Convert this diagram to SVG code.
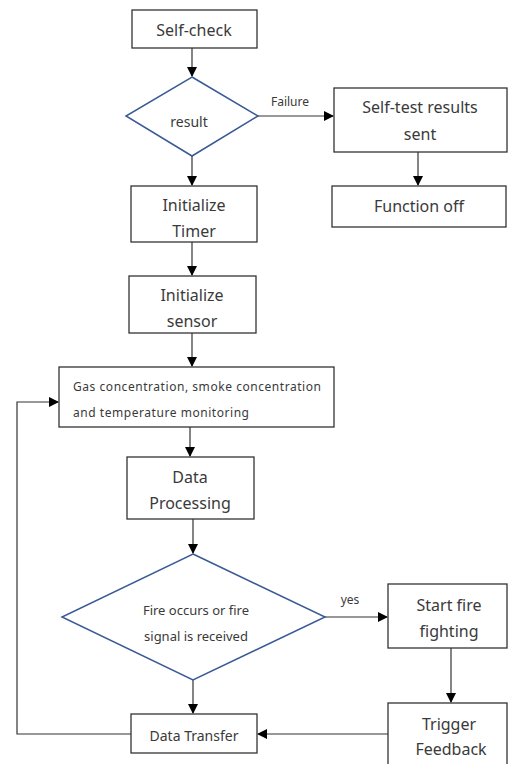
<svg xmlns="http://www.w3.org/2000/svg" width="509" height="764" viewBox="0 0 509 764">
<style>
.box{fill:#fff;stroke:#333;stroke-width:1.3}
.dia{fill:#fff;stroke:#3a5a96;stroke-width:1.5}
.t{font-family:"Noto Sans","Open Sans",sans-serif;fill:#3a3a3a;text-anchor:middle;dominant-baseline:central}
.l{font-size:16px}
.s{font-size:12px}
.c{fill:none;stroke:#333;stroke-width:1.2}
</style>
<defs>
<marker id="ah" markerWidth="10" markerHeight="10" refX="9" refY="5" orient="auto" markerUnits="userSpaceOnUse">
<path d="M0,0 L10,5 L0,10 Z" fill="#000"/>
</marker>
</defs>
<rect width="509" height="764" fill="#fff"/>
<g id="connectors">
<line class="c" x1="192" y1="48" x2="192" y2="76" marker-end="url(#ah)"/>
<line class="c" x1="258" y1="116" x2="333" y2="116" marker-end="url(#ah)"/>
<line class="c" x1="418" y1="152" x2="418" y2="185" marker-end="url(#ah)"/>
<line class="c" x1="192" y1="156" x2="192" y2="185" marker-end="url(#ah)"/>
<line class="c" x1="192" y1="242" x2="192" y2="275" marker-end="url(#ah)"/>
<line class="c" x1="192" y1="333" x2="192" y2="366" marker-end="url(#ah)"/>
<line class="c" x1="190" y1="427" x2="190" y2="456" marker-end="url(#ah)"/>
<line class="c" x1="193" y1="519" x2="193" y2="553" marker-end="url(#ah)"/>
<line class="c" x1="325" y1="617" x2="387" y2="617" marker-end="url(#ah)"/>
<line class="c" x1="451" y1="648" x2="451" y2="702" marker-end="url(#ah)"/>
<line class="c" x1="193" y1="680" x2="193" y2="713" marker-end="url(#ah)"/>
<line class="c" x1="388" y1="734" x2="258" y2="734" marker-end="url(#ah)"/>
<polyline class="c" points="131,734 17,734 17,402 58,402" marker-end="url(#ah)"/>
<text class="t s" x="290" y="101">Failure</text>
<text class="t s" x="350" y="599">yes</text>
</g>
<g id="selfcheck">
<rect class="box" x="132" y="10" width="125" height="38"/>
<text class="t l" x="194" y="30">Self-check</text>
</g>
<g id="result">
<polygon class="dia" points="192,77 258,116 192,156 126,116"/>
<text class="t" style="font-size:14px" x="189" y="121">result</text>
</g>
<g id="selftest">
<rect class="box" x="334" y="88" width="173" height="64"/>
<text class="t l" x="420" y="107">Self-test results</text>
<text class="t l" x="420" y="134">sent</text>
</g>
<g id="funcoff">
<rect class="box" x="332" y="186" width="174" height="41"/>
<text class="t l" x="419" y="206">Function off</text>
</g>
<g id="timer">
<rect class="box" x="131" y="186" width="126" height="56"/>
<text class="t l" x="194" y="205">Initialize</text>
<text class="t l" x="194" y="231">Timer</text>
</g>
<g id="sensor">
<rect class="box" x="129" y="276" width="127" height="57"/>
<text class="t l" x="192" y="295">Initialize</text>
<text class="t l" x="192" y="321">sensor</text>
</g>
<g id="monitor">
<rect class="box" x="59" y="367" width="275" height="60"/>
<text class="t s" style="text-anchor:start" x="73" y="386" textLength="248">Gas concentration, smoke concentration</text>
<text class="t s" style="text-anchor:start" x="73" y="412" textLength="176">and temperature monitoring</text>
</g>
<g id="processing">
<rect class="box" x="127" y="457" width="127" height="62"/>
<text class="t l" x="190" y="477">Data</text>
<text class="t l" x="190" y="503">Processing</text>
</g>
<g id="fire">
<polygon class="dia" points="193,554 325,617 193,680 62,617"/>
<text class="t" style="font-size:13px" x="196" y="610">Fire occurs or fire</text>
<text class="t" style="font-size:13px" x="196" y="636">signal is received</text>
</g>
<g id="startfire">
<rect class="box" x="388" y="584" width="119" height="64"/>
<text class="t l" x="449" y="605">Start fire</text>
<text class="t l" x="449" y="631">fighting</text>
</g>
<g id="trigger">
<rect class="box" x="388" y="703" width="119" height="70"/>
<text class="t l" x="449" y="724">Trigger</text>
<text class="t l" x="451" y="749">Feedback</text>
</g>
<g id="transfer">
<rect class="box" x="131" y="714" width="126" height="39"/>
<text class="t" style="font-size:14px" x="194" y="735">Data Transfer</text>
</g>
</svg>
